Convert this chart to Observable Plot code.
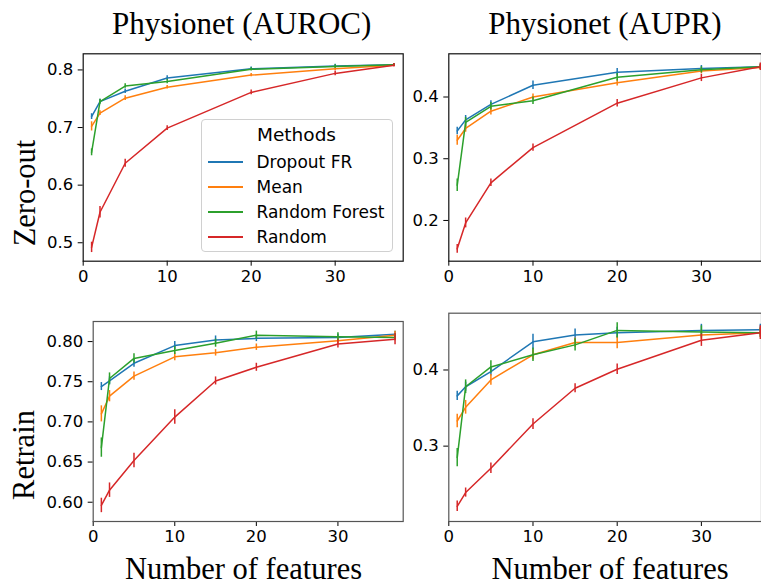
<!DOCTYPE html>
<html>
<head>
<meta charset="utf-8">
<script src="https://cdn.jsdelivr.net/npm/d3@7"></script>
<script src="https://cdn.jsdelivr.net/npm/@observablehq/plot@0.6"></script>
<style>
  body { margin: 0; background: white; }
  #wrap { position: relative; width: 761px; height: 586px; overflow: hidden; background: white; }
  #wrap svg.panel { position: absolute; left: 0; top: 0; }
  #legend { position: absolute; left: 200.5px; top: 119px; width: 192px; height: 133px;
    border: 1px solid #d0d0d0; border-radius: 4px; background: rgba(255,255,255,0.85);
    font-family: "DejaVu Sans", sans-serif; color: black; box-sizing: border-box; }
  #legend .title { position: absolute; left: 0; right: 0; top: 2px; text-align: center; font-size: 18.5px; line-height: 26px; }
  #legend .row { position: absolute; left: 0; height: 24px; font-size: 17px; line-height: 24px; }
  #legend .sw { position: absolute; left: 6px; top: 11px; width: 35px; height: 0; border-top: 2px solid; }
  #legend .lab { position: absolute; left: 55px; top: 0; white-space: nowrap; }
</style>
</head>
<body>
<div id="wrap"></div>
<script>
// ---------- data ----------
const methods = ["Dropout FR", "Mean", "Random Forest", "Random"];
const colors = ["#1f77b4", "#ff7f0e", "#2ca02c", "#d62728"];

const xZero = [1, 2, 5, 10, 20, 30, 37];
const xRetrain = [1, 2, 5, 10, 15, 20, 30, 37];

// Zero-out, AUROC
const zeroAurocDropout = [0.719, 0.745, 0.763, 0.786, 0.802, 0.807, 0.809];
const zeroAurocMean    = [0.702, 0.725, 0.751, 0.770, 0.791, 0.802, 0.808];
const zeroAurocRF      = [0.657, 0.745, 0.772, 0.780, 0.801, 0.806, 0.809];
const zeroAurocRandom  = [0.492, 0.553, 0.638, 0.699, 0.761, 0.794, 0.808];
const zeroAurocDropoutErr = [0.005, 0.004, 0.004, 0.004, 0.003, 0.003, 0.002];
const zeroAurocMeanErr    = [0.008, 0.004, 0.004, 0.003, 0.003, 0.003, 0.002];
const zeroAurocRFErr      = [0.006, 0.004, 0.004, 0.004, 0.003, 0.003, 0.002];
const zeroAurocRandomErr  = [0.009, 0.010, 0.007, 0.004, 0.004, 0.004, 0.003];

// Zero-out, AUPR
const zeroAuprDropout = [0.345, 0.363, 0.388, 0.419, 0.440, 0.446, 0.449];
const zeroAuprMean    = [0.330, 0.349, 0.377, 0.400, 0.423, 0.442, 0.448];
const zeroAuprRF      = [0.257, 0.359, 0.385, 0.394, 0.432, 0.444, 0.449];
const zeroAuprRandom  = [0.154, 0.196, 0.261, 0.318, 0.390, 0.431, 0.449];
const zeroAuprDropoutErr = [0.006, 0.007, 0.006, 0.007, 0.006, 0.005, 0.004];
const zeroAuprMeanErr    = [0.008, 0.006, 0.006, 0.005, 0.005, 0.004, 0.004];
const zeroAuprRFErr      = [0.010, 0.008, 0.006, 0.006, 0.006, 0.005, 0.004];
const zeroAuprRandomErr  = [0.007, 0.008, 0.006, 0.006, 0.006, 0.006, 0.006];

// Retrain, AUROC
const retrainAurocDropout = [0.744, 0.751, 0.773, 0.795, 0.802, 0.804, 0.805, 0.809];
const retrainAurocMean    = [0.710, 0.732, 0.757, 0.781, 0.786, 0.793, 0.801, 0.808];
const retrainAurocRF      = [0.668, 0.754, 0.779, 0.789, 0.798, 0.808, 0.806, 0.805];
const retrainAurocRandom  = [0.596, 0.615, 0.652, 0.706, 0.751, 0.768, 0.797, 0.803];
const retrainAurocDropoutErr = [0.005, 0.005, 0.005, 0.005, 0.005, 0.004, 0.004, 0.004];
const retrainAurocMeanErr    = [0.010, 0.007, 0.005, 0.005, 0.004, 0.004, 0.004, 0.005];
const retrainAurocRFErr      = [0.012, 0.007, 0.006, 0.005, 0.005, 0.005, 0.005, 0.004];
const retrainAurocRandomErr  = [0.009, 0.009, 0.009, 0.009, 0.005, 0.005, 0.005, 0.007];

// Retrain, AUPR
const retrainAuprDropout = [0.366, 0.378, 0.398, 0.437, 0.446, 0.449, 0.452, 0.453];
const retrainAuprMean    = [0.333, 0.351, 0.387, 0.420, 0.436, 0.436, 0.446, 0.449];
const retrainAuprRF      = [0.285, 0.378, 0.404, 0.420, 0.433, 0.452, 0.450, 0.449];
const retrainAuprRandom  = [0.221, 0.239, 0.271, 0.329, 0.376, 0.401, 0.439, 0.449];
const retrainAuprDropoutErr = [0.006, 0.006, 0.006, 0.010, 0.008, 0.007, 0.008, 0.007];
const retrainAuprMeanErr    = [0.009, 0.009, 0.007, 0.007, 0.006, 0.008, 0.006, 0.006];
const retrainAuprRFErr      = [0.012, 0.009, 0.008, 0.009, 0.008, 0.010, 0.008, 0.006];
const retrainAuprRandomErr  = [0.007, 0.006, 0.007, 0.007, 0.006, 0.007, 0.008, 0.009];

const xTicks = [0, 10, 20, 30];
const yTicksZeroAuroc = [0.5, 0.6, 0.7, 0.8];
const yTicksZeroAupr = [0.2, 0.3, 0.4];
const yTicksRetrainAuroc = [0.60, 0.65, 0.70, 0.75, 0.80];
const yTicksRetrainAupr = [0.3, 0.4];

// ---------- helpers ----------
function rows(xs, vals, errs) {
  const out = [];
  methods.forEach((m, i) => {
    xs.forEach((x, j) => {
      const y = vals[i][j], e = errs[i][j];
      out.push({method: m, x, y, lo: y - e, hi: y + e});
    });
  });
  return out;
}

const W = 761, H = 586;
function panel({data, frame, xDomain, yDomain, yTicks, yFmt, frameColor}) {
  const [L, R, T, B] = frame;
  const svg = Plot.plot({
    width: W, height: H,
    marginLeft: L, marginRight: W - R, marginTop: T, marginBottom: H - B,
    style: {background: "transparent", fontFamily: "DejaVu Sans, sans-serif", fontSize: "16.5px", color: "black", overflow: "visible"},
    x: {domain: xDomain, ticks: xTicks, tickSize: 5, tickPadding: 4, tickFormat: d3.format("d"), label: null},
    y: {domain: yDomain, ticks: yTicks, tickSize: 5, tickPadding: 5, tickFormat: d3.format(yFmt), label: null},
    color: {domain: methods, range: colors},
    marks: [
      Plot.frame({stroke: frameColor, strokeWidth: 1.2}),
      ...methods.map(m => [
        Plot.line(data.filter(d => d.method === m), {x: "x", y: "y", stroke: "method", strokeWidth: 1.5}),
        Plot.ruleX(data.filter(d => d.method === m), {x: "x", y1: "lo", y2: "hi", stroke: "method", strokeWidth: 1.5})
      ]).flat()
    ]
  });
  svg.classList.add("panel");
  return svg;
}

const wrap = document.getElementById("wrap");

wrap.appendChild(panel({
  data: rows(xZero, [zeroAurocDropout, zeroAurocMean, zeroAurocRF, zeroAurocRandom],
                    [zeroAurocDropoutErr, zeroAurocMeanErr, zeroAurocRFErr, zeroAurocRandomErr]),
  frame: [82.7, 402.7, 53.3, 260.7], xDomain: [0, 38.1], yDomain: [0.468, 0.828],
  yTicks: yTicksZeroAuroc, yFmt: ".1f", frameColor: "#111"
}));
wrap.appendChild(panel({
  data: rows(xZero, [zeroAuprDropout, zeroAuprMean, zeroAuprRF, zeroAuprRandom],
                    [zeroAuprDropoutErr, zeroAuprMeanErr, zeroAuprRFErr, zeroAuprRandomErr]),
  frame: [448.3, 761, 53.3, 260.7], xDomain: [0, 37.14], yDomain: [0.134, 0.470],
  yTicks: yTicksZeroAupr, yFmt: ".1f", frameColor: "#111"
}));
wrap.appendChild(panel({
  data: rows(xRetrain, [retrainAurocDropout, retrainAurocMean, retrainAurocRF, retrainAurocRandom],
                       [retrainAurocDropoutErr, retrainAurocMeanErr, retrainAurocRFErr, retrainAurocRandomErr]),
  frame: [92.7, 402.7, 321, 521], xDomain: [0, 38], yDomain: [0.576, 0.825],
  yTicks: yTicksRetrainAuroc, yFmt: ".2f", frameColor: "#555"
}));
wrap.appendChild(panel({
  data: rows(xRetrain, [retrainAuprDropout, retrainAuprMean, retrainAuprRF, retrainAuprRandom],
                       [retrainAuprDropoutErr, retrainAuprMeanErr, retrainAuprRFErr, retrainAuprRandomErr]),
  frame: [448.3, 761, 312.7, 521], xDomain: [0, 37.14], yDomain: [0.201, 0.4746],
  yTicks: yTicksRetrainAupr, yFmt: ".1f", frameColor: "#555"
}));

// ---------- text overlay (titles, axis labels) ----------
const NS = "http://www.w3.org/2000/svg";
const ov = document.createElementNS(NS, "svg");
ov.setAttribute("width", W); ov.setAttribute("height", H);
ov.setAttribute("class", "panel");
ov.style.pointerEvents = "none";
function txt(s, x, y, rot, size) {
  const t = document.createElementNS(NS, "text");
  t.textContent = s;
  t.setAttribute("text-anchor", "middle");
  t.setAttribute("font-family", "Liberation Serif, Times New Roman, serif");
  t.setAttribute("font-size", size);
  t.setAttribute("fill", "black");
  t.setAttribute("transform", `translate(${x},${y})` + (rot ? ` rotate(${rot})` : ""));
  ov.appendChild(t);
}
txt("Physionet (AUROC)", 241.7, 33.5, 0, 31);
txt("Physionet (AUPR)", 605, 33.5, 0, 31);
txt("Number of features", 243.5, 579, 0, 30.5);
txt("Number of features", 610, 579, 0, 30.5);
txt("Zero-out", 34.5, 193, -90, 30.5);
txt("Retrain", 33.5, 455, -90, 30.5);
wrap.appendChild(ov);

// ---------- legend ----------
const lg = document.createElement("div");
lg.id = "legend";
const tt = document.createElement("div");
tt.className = "title"; tt.textContent = "Methods";
lg.appendChild(tt);
methods.forEach((m, i) => {
  const r = document.createElement("div");
  r.className = "row";
  r.style.top = (29.5 + i * 25.1) + "px";
  r.style.width = "100%";
  const sw = document.createElement("div");
  sw.className = "sw"; sw.style.borderColor = colors[i];
  const lb = document.createElement("div");
  lb.className = "lab"; lb.textContent = m;
  r.appendChild(sw); r.appendChild(lb);
  lg.appendChild(r);
});
wrap.appendChild(lg);
</script>
</body>
</html>
